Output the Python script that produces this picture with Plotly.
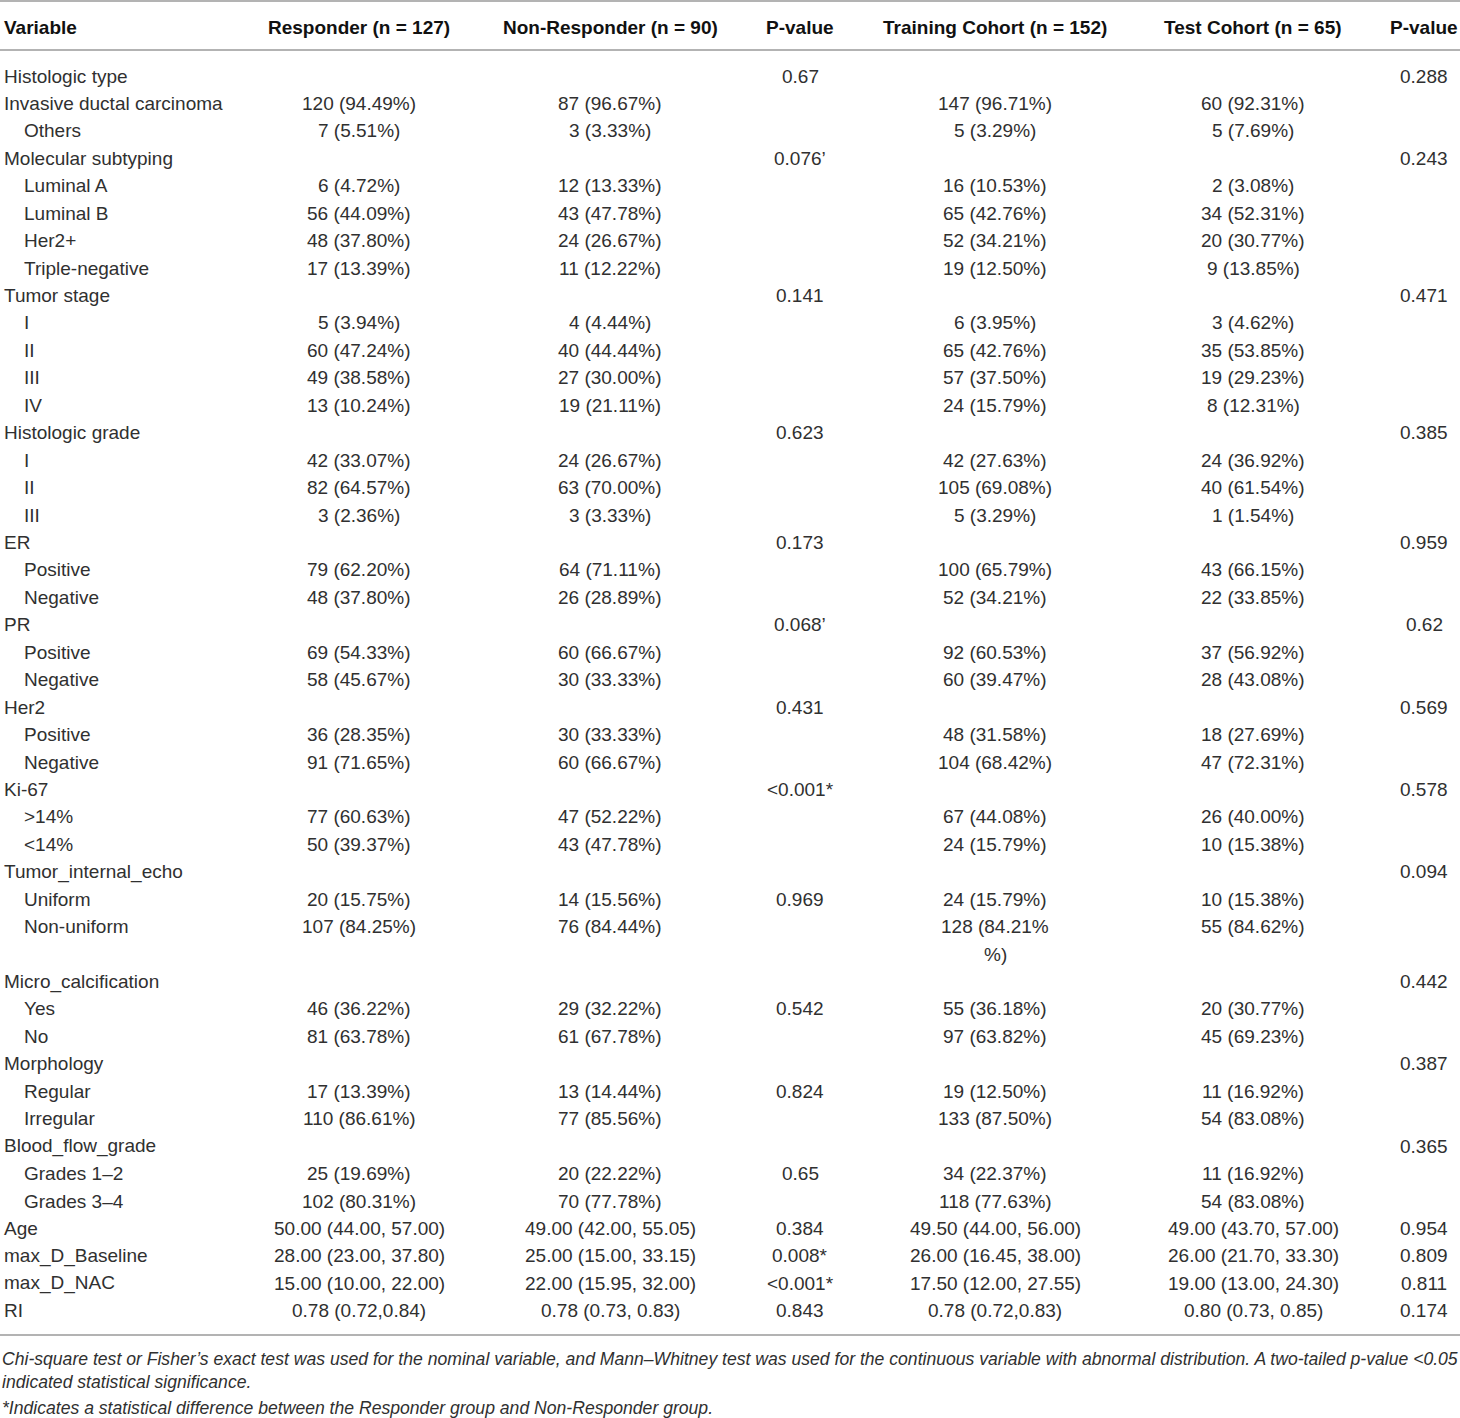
import plotly.graph_objects as go

# ---------------- data ----------------
headers = ["Variable", "Responder (n = 127)", "Non-Responder (n = 90)", "P-value",
           "Training Cohort (n = 152)", "Test Cohort (n = 65)", "P-value"]

labels = ["Histologic type", "Invasive ductal carcinoma", "Others", "Molecular subtyping",
          "Luminal A", "Luminal B", "Her2+", "Triple-negative", "Tumor stage", "I", "II", "III", "IV",
          "Histologic grade", "I", "II", "III", "ER", "Positive", "Negative", "PR", "Positive", "Negative",
          "Her2", "Positive", "Negative", "Ki-67", ">14%", "<14%", "Tumor_internal_echo", "Uniform",
          "Non-uniform", "", "Micro_calcification", "Yes", "No", "Morphology", "Regular", "Irregular",
          "Blood_flow_grade", "Grades 1–2", "Grades 3–4", "Age", "max_D_Baseline", "max_D_NAC", "RI"]

levels = [0, 0, 1, 0, 1, 1, 1, 1, 0, 1, 1, 1, 1, 0, 1, 1, 1, 0, 1, 1, 0, 1, 1, 0, 1, 1, 0, 1, 1, 0, 1, 1,
          0, 0, 1, 1, 0, 1, 1, 0, 1, 1, 0, 0, 0, 0]

responder = ["", "120 (94.49%)", "7 (5.51%)", "", "6 (4.72%)", "56 (44.09%)", "48 (37.80%)", "17 (13.39%)",
             "", "5 (3.94%)", "60 (47.24%)", "49 (38.58%)", "13 (10.24%)", "", "42 (33.07%)", "82 (64.57%)",
             "3 (2.36%)", "", "79 (62.20%)", "48 (37.80%)", "", "69 (54.33%)", "58 (45.67%)", "",
             "36 (28.35%)", "91 (71.65%)", "", "77 (60.63%)", "50 (39.37%)", "", "20 (15.75%)",
             "107 (84.25%)", "", "", "46 (36.22%)", "81 (63.78%)", "", "17 (13.39%)", "110 (86.61%)", "",
             "25 (19.69%)", "102 (80.31%)", "50.00 (44.00, 57.00)", "28.00 (23.00, 37.80)",
             "15.00 (10.00, 22.00)", "0.78 (0.72,0.84)"]

non_responder = ["", "87 (96.67%)", "3 (3.33%)", "", "12 (13.33%)", "43 (47.78%)", "24 (26.67%)",
                 "11 (12.22%)", "", "4 (4.44%)", "40 (44.44%)", "27 (30.00%)", "19 (21.11%)", "",
                 "24 (26.67%)", "63 (70.00%)", "3 (3.33%)", "", "64 (71.11%)", "26 (28.89%)", "",
                 "60 (66.67%)", "30 (33.33%)", "", "30 (33.33%)", "60 (66.67%)", "", "47 (52.22%)",
                 "43 (47.78%)", "", "14 (15.56%)", "76 (84.44%)", "", "", "29 (32.22%)", "61 (67.78%)", "",
                 "13 (14.44%)", "77 (85.56%)", "", "20 (22.22%)", "70 (77.78%)", "49.00 (42.00, 55.05)",
                 "25.00 (15.00, 33.15)", "22.00 (15.95, 32.00)", "0.78 (0.73, 0.83)"]

p_response = ["0.67", "", "", "0.076’", "", "", "", "", "0.141", "", "", "", "", "0.623", "", "", "",
              "0.173", "", "", "0.068’", "", "", "0.431", "", "", "<0.001*", "", "", "", "0.969", "", "",
              "", "0.542", "", "", "0.824", "", "", "0.65", "", "0.384", "0.008*", "<0.001*", "0.843"]

training = ["", "147 (96.71%)", "5 (3.29%)", "", "16 (10.53%)", "65 (42.76%)", "52 (34.21%)",
            "19 (12.50%)", "", "6 (3.95%)", "65 (42.76%)", "57 (37.50%)", "24 (15.79%)", "",
            "42 (27.63%)", "105 (69.08%)", "5 (3.29%)", "", "100 (65.79%)", "52 (34.21%)", "",
            "92 (60.53%)", "60 (39.47%)", "", "48 (31.58%)", "104 (68.42%)", "", "67 (44.08%)",
            "24 (15.79%)", "", "24 (15.79%)", "128 (84.21%", "%)", "", "55 (36.18%)", "97 (63.82%)", "",
            "19 (12.50%)", "133 (87.50%)", "", "34 (22.37%)", "118 (77.63%)", "49.50 (44.00, 56.00)",
            "26.00 (16.45, 38.00)", "17.50 (12.00, 27.55)", "0.78 (0.72,0.83)"]

test = ["", "60 (92.31%)", "5 (7.69%)", "", "2 (3.08%)", "34 (52.31%)", "20 (30.77%)", "9 (13.85%)", "",
        "3 (4.62%)", "35 (53.85%)", "19 (29.23%)", "8 (12.31%)", "", "24 (36.92%)", "40 (61.54%)",
        "1 (1.54%)", "", "43 (66.15%)", "22 (33.85%)", "", "37 (56.92%)", "28 (43.08%)", "",
        "18 (27.69%)", "47 (72.31%)", "", "26 (40.00%)", "10 (15.38%)", "", "10 (15.38%)", "55 (84.62%)",
        "", "", "20 (30.77%)", "45 (69.23%)", "", "11 (16.92%)", "54 (83.08%)", "", "11 (16.92%)",
        "54 (83.08%)", "49.00 (43.70, 57.00)", "26.00 (21.70, 33.30)", "19.00 (13.00, 24.30)",
        "0.80 (0.73, 0.85)"]

p_cohort = ["0.288", "", "", "0.243", "", "", "", "", "0.471", "", "", "", "", "0.385", "", "", "",
            "0.959", "", "", "0.62", "", "", "0.569", "", "", "0.578", "", "", "0.094", "", "", "", "0.442",
            "", "", "0.387", "", "", "0.365", "", "", "0.954", "0.809", "0.811", "0.174"]

footnotes = [
    "Chi-square test or Fisher’s exact test was used for the nominal variable, and Mann–Whitney test was used "
    "for the continuous variable with abnormal distribution. A two-tailed p-value <0.05",
    "indicated statistical significance.",
    "*Indicates a statistical difference between the Responder group and Non-Responder group.",
]

# ---------------- layout constants ----------------
W, H = 1460, 1418
FONT = "Liberation Sans, Arial, sans-serif"
TXT = "#303030"
RULE = "#9a9a9a"
FS = 19
HEADER_Y = 27
ROW0 = 76
ROW_H = 27.44
INDENT = 20
col_x = [2, 359, 610, 800, 995, 1253, 1424]
foot_y = [1359, 1382, 1408]

fig = go.Figure()
fig.add_trace(go.Scatter(x=[0, W], y=[0, H], mode="markers", marker=dict(opacity=0),
                         hoverinfo="skip", showlegend=False))

ann = []
# header
for j, h in enumerate(headers):
    ann.append(dict(x=col_x[j], y=HEADER_Y, text="<b>%s</b>" % h, showarrow=False,
                    xanchor="left" if j == 0 else "center", yanchor="middle",
                    font=dict(family=FONT, size=FS, color="#111111")))

columns = [responder, non_responder, p_response, training, test, p_cohort]
for i, lab in enumerate(labels):
    y = ROW0 + i * ROW_H
    if lab:
        ann.append(dict(x=col_x[0] + INDENT * levels[i], y=y, text=lab, showarrow=False,
                        xanchor="left", yanchor="middle",
                        font=dict(family=FONT, size=FS, color=TXT)))
    for j, col in enumerate(columns):
        if col[i]:
            ann.append(dict(x=col_x[j + 1], y=y, text=col[i], showarrow=False,
                            xanchor="center", yanchor="middle",
                            font=dict(family=FONT, size=FS, color=TXT)))

for k, t in enumerate(footnotes):
    ann.append(dict(x=0, y=foot_y[k], text="<i>%s</i>" % t, showarrow=False,
                    xanchor="left", yanchor="middle",
                    font=dict(family=FONT, size=17.6, color=TXT)))

shapes = [
    dict(type="line", x0=0, x1=W, y0=1, y1=1, line=dict(color=RULE, width=1.5)),
    dict(type="line", x0=0, x1=W, y0=50, y1=50, line=dict(color=RULE, width=1.5)),
    dict(type="line", x0=0, x1=W, y0=1335, y1=1335, line=dict(color=RULE, width=1.5)),
]

fig.update_layout(
    width=W, height=H, margin=dict(l=0, r=0, t=0, b=0),
    paper_bgcolor="white", plot_bgcolor="white",
    xaxis=dict(range=[0, W], visible=False, fixedrange=True),
    yaxis=dict(range=[H, 0], visible=False, fixedrange=True),
    annotations=ann, shapes=shapes, showlegend=False,
)

fig.write_html("out.html", config={"displayModeBar": False},
               post_script="document.body.style.margin='0';document.body.style.overflow='hidden';")
